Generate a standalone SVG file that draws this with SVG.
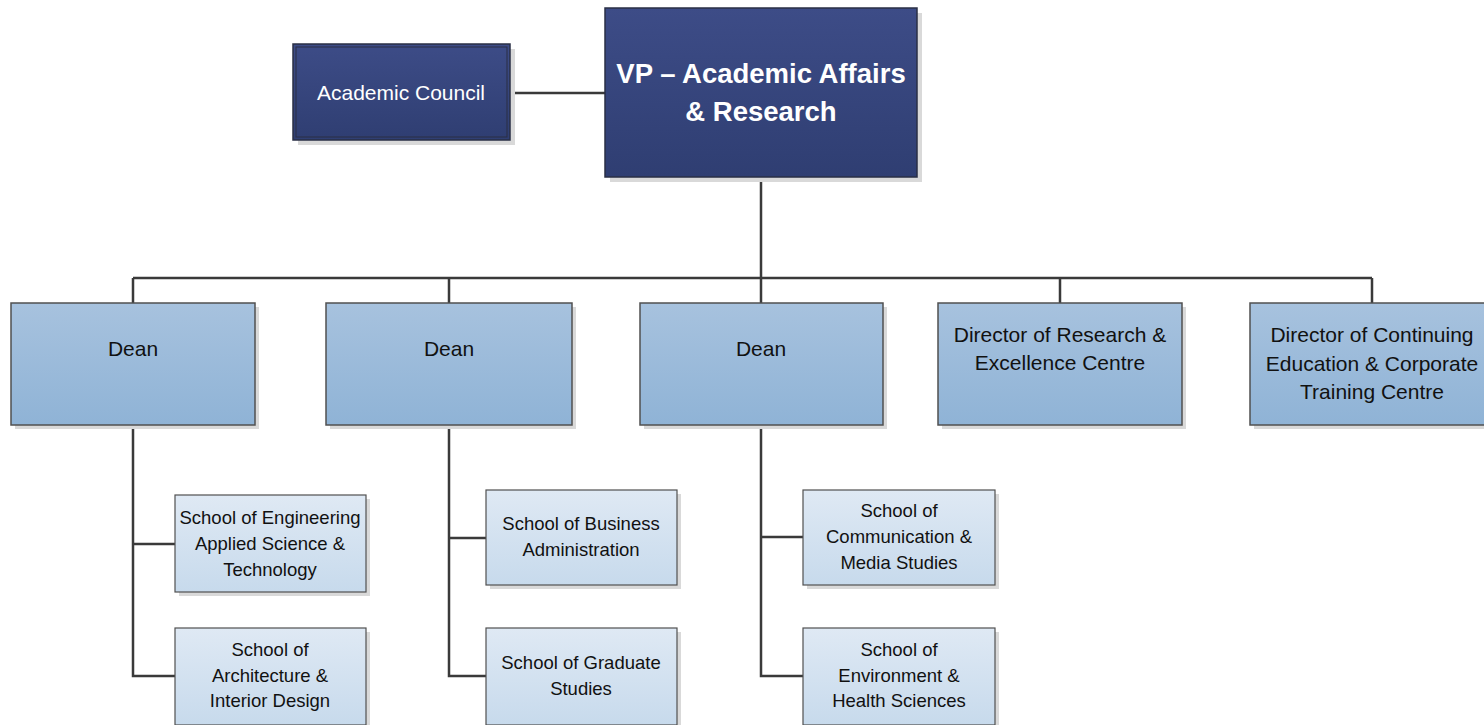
<svg xmlns="http://www.w3.org/2000/svg" width="1484" height="725" viewBox="0 0 1484 725">
<defs>
<linearGradient id="gNavy" x1="0" y1="0" x2="0" y2="1"><stop offset="0" stop-color="#3d4c87"/><stop offset="1" stop-color="#2f3e72"/></linearGradient>
<linearGradient id="gMid" x1="0" y1="0" x2="0" y2="1"><stop offset="0" stop-color="#a7c2de"/><stop offset="1" stop-color="#8fb3d6"/></linearGradient>
<linearGradient id="gLight" x1="0" y1="0" x2="0" y2="1"><stop offset="0" stop-color="#dfe9f4"/><stop offset="1" stop-color="#c7daec"/></linearGradient>
</defs>
<style>
.sh{fill:#d9d9d9}
.navy{fill:url(#gNavy);stroke:#2a2f45;stroke-width:1.5}
.mid{fill:url(#gMid);stroke:#505050;stroke-width:1.5}
.light{fill:url(#gLight);stroke:#505050;stroke-width:1.2}
.t{font-family:"Liberation Sans",Arial,sans-serif;text-anchor:middle;fill:#111}
.w{fill:#fff}
.big{font-size:27.5px;font-weight:bold}
.md{font-size:21px}
.sm{font-size:18.5px}
.con{fill:none;stroke:#3a3a3a;stroke-width:2.5}
</style>
<g id="connectors">
<path class="con" d="M510 93H605"/>
<path class="con" d="M761 177V278M133 278H1372M133 278V303M449 278V303M761 278V303M1060 278V303M1372 278V303"/>
<path class="con" d="M133 425V676H175M133 544H175"/>
<path class="con" d="M449 425V676H486M449 538H486"/>
<path class="con" d="M761 425V676H803M761 537H803"/>
</g>
<g id="vp">
<rect class="sh" x="610" y="13" width="312" height="169"/>
<rect class="navy" x="605" y="8" width="312" height="169"/>
<text class="t w big" x="761" y="83">VP – Academic Affairs</text>
<text class="t w big" x="761" y="121">&amp; Research</text>
</g>
<g id="council">
<rect class="sh" x="298" y="49" width="217" height="96"/>
<rect class="navy" x="293" y="44" width="217" height="96"/>
<rect x="296" y="47" width="211" height="90" fill="none" stroke="#2a2f45" stroke-width="1"/>
<text class="t w md" x="401" y="100">Academic Council</text>
</g>
<g id="dean1">
<rect class="sh" x="15" y="307" width="244" height="122"/>
<rect class="mid" x="11" y="303" width="244" height="122"/>
<text class="t md" x="133" y="356">Dean</text>
</g>
<g id="dean2">
<rect class="sh" x="330" y="307" width="246" height="122"/>
<rect class="mid" x="326" y="303" width="246" height="122"/>
<text class="t md" x="449" y="356">Dean</text>
</g>
<g id="dean3">
<rect class="sh" x="644" y="307" width="243" height="122"/>
<rect class="mid" x="640" y="303" width="243" height="122"/>
<text class="t md" x="761" y="356">Dean</text>
</g>
<g id="dir-research">
<rect class="sh" x="942" y="307" width="244" height="122"/>
<rect class="mid" x="938" y="303" width="244" height="122"/>
<text class="t md" x="1060" y="342">Director of Research &amp;</text>
<text class="t md" x="1060" y="370">Excellence Centre</text>
</g>
<g id="dir-continuing">
<rect class="sh" x="1254" y="307" width="244" height="122"/>
<rect class="mid" x="1250" y="303" width="244" height="122"/>
<text class="t md" x="1372" y="342">Director of Continuing</text>
<text class="t md" x="1372" y="371">Education &amp; Corporate</text>
<text class="t md" x="1372" y="399">Training Centre</text>
</g>
<g id="eng">
<rect class="sh" x="179" y="499" width="191" height="97"/>
<rect class="light" x="175" y="495" width="191" height="97"/>
<text class="t sm" x="270" y="524">School of Engineering</text>
<text class="t sm" x="270" y="550">Applied Science &amp;</text>
<text class="t sm" x="270" y="576">Technology</text>
</g>
<g id="arch">
<rect class="sh" x="179" y="632" width="191" height="97"/>
<rect class="light" x="175" y="628" width="191" height="97"/>
<text class="t sm" x="270" y="656">School of</text>
<text class="t sm" x="270" y="682">Architecture &amp;</text>
<text class="t sm" x="270" y="707">Interior Design</text>
</g>
<g id="bus">
<rect class="sh" x="490" y="494" width="191" height="95"/>
<rect class="light" x="486" y="490" width="191" height="95"/>
<text class="t sm" x="581" y="530">School of Business</text>
<text class="t sm" x="581" y="556">Administration</text>
</g>
<g id="grad">
<rect class="sh" x="490" y="632" width="191" height="97"/>
<rect class="light" x="486" y="628" width="191" height="97"/>
<text class="t sm" x="581" y="669">School of Graduate</text>
<text class="t sm" x="581" y="695">Studies</text>
</g>
<g id="comm">
<rect class="sh" x="807" y="494" width="192" height="95"/>
<rect class="light" x="803" y="490" width="192" height="95"/>
<text class="t sm" x="899" y="517">School of</text>
<text class="t sm" x="899" y="543">Communication &amp;</text>
<text class="t sm" x="899" y="569">Media Studies</text>
</g>
<g id="env">
<rect class="sh" x="807" y="632" width="192" height="97"/>
<rect class="light" x="803" y="628" width="192" height="97"/>
<text class="t sm" x="899" y="656">School of</text>
<text class="t sm" x="899" y="682">Environment &amp;</text>
<text class="t sm" x="899" y="707">Health Sciences</text>
</g>
</svg>
